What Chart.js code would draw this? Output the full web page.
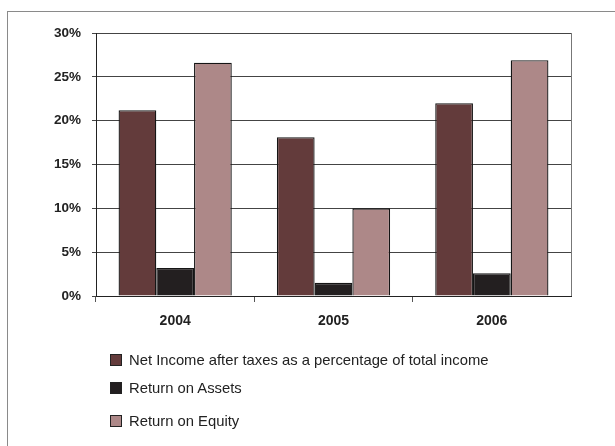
<!DOCTYPE html>
<html>
<head>
<meta charset="utf-8">
<script src="https://cdn.jsdelivr.net/npm/chart.js@4"></script>
<style>
  body{margin:0;background:#fff;width:615px;height:446px;overflow:hidden;position:relative;font-family:"Liberation Sans",Arial,sans-serif;}
  #frame{position:absolute;left:7px;top:11px;width:700px;height:500px;border:1.5px solid #8a8a8a;}
  #chart{position:absolute;left:0;top:0;}
  #legend{position:absolute;left:110px;top:0;}
  .item{position:absolute;left:0;white-space:nowrap;font-size:14.8px;color:#222;}
  .box{display:inline-block;width:10px;height:10px;border:1px solid #222;margin-right:7px;vertical-align:-1px;}
</style>
</head>
<body>
<div id="frame"></div>
<canvas id="chart" width="615" height="446"></canvas>
<div id="legend"></div>
<script>
const years = ["2004","2005","2006"];
const netIncome = [21.2, 18.1, 22.0];
const roa = [3.2, 1.5, 2.6];
const roe = [26.6, 10.0, 26.9];
const seriesNames = ["Net Income after taxes as a percentage of total income","Return on Assets","Return on Equity"];
const colors = ["#633b3b","#231f20","#ad8888"];
const yTicks = [0,5,10,15,20,25,30];

const font = {family:"Liberation Sans", size:13.5, weight:"bold"};

const plotBorder = {
  id:"plotBorder",
  afterDraw(chart){
    const c=chart.ctx, a=chart.chartArea;
    c.save(); c.strokeStyle="#777"; c.lineWidth=1;
    c.beginPath(); c.moveTo(a.right+0.5,a.top); c.lineTo(a.right+0.5,a.bottom); c.stroke();
    c.restore();
  }
};

const sets=[netIncome,roa,roe].map((d,i)=>({
  label:seriesNames[i], data:d, backgroundColor:colors[i],
  borderColor:"#151515", borderWidth:1.3,
  barPercentage:1, categoryPercentage:0.715
}));

new Chart(document.getElementById("chart"),{
  type:"bar",
  data:{labels:years, datasets:sets},
  options:{
    responsive:false, animation:false,
    layout:{padding:{left:0,right:44,top:33,bottom:110}},
    plugins:{legend:{display:false}, tooltip:{enabled:false}},
    scales:{
      y:{
        min:0, max:30,
        afterBuildTicks(s){ s.ticks=yTicks.map(v=>({value:v})); },
        afterFit(s){ s.width=96; },
        ticks:{callback:v=>v+"%", font, color:"#222", padding:11},
        grid:{color:"#444", lineWidth:1, tickLength:4},
        border:{color:"#222", width:1}
      },
      x:{
        afterFit(s){ s.height=40; },
        ticks:{font:{...font,size:14}, color:"#222", padding:11},
        // no tick mark after the last category
        grid:{drawOnChartArea:false, tickLength:6, color:ctx=>ctx.type!=="tick"?"rgba(0,0,0,0)":"#555"},
        border:{color:"#222", width:1}
      }
    }
  },
  plugins:[plotBorder]
});

// legend below the chart, one item per row
const rowsY=[352,380,413];
const leg=document.getElementById("legend");
seriesNames.forEach((n,i)=>{
  const d=document.createElement("div");
  d.className="item"; d.style.top=rowsY[i]+"px";
  d.innerHTML=`<span class="box" style="background:${colors[i]}"></span>${n}`;
  leg.appendChild(d);
});
</script>
</body>
</html>
